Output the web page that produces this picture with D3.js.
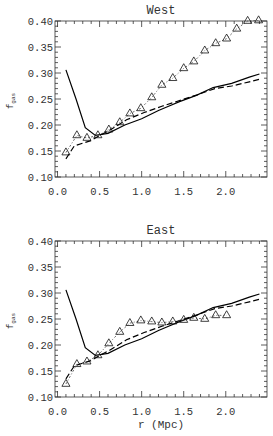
<!DOCTYPE html>
<html lang="en">
<head>
<meta charset="UTF-8">
<title>f_gas profiles</title>
<style>
  body { margin: 0; background: #fff; }
  svg text { font-family: "Liberation Mono", "DejaVu Sans Mono", monospace; fill: #333; }
</style>
</head>
<body>
<svg id="chart" width="273" height="436"></svg>
<script src="https://d3js.org/d3.v7.min.js"></script>
<script>
// radius of the data points (Mpc)
var rPoints = [0.10, 0.23, 0.35, 0.48, 0.61, 0.74, 0.86, 0.99, 1.12, 1.24,
               1.37, 1.50, 1.62, 1.75, 1.88, 2.01, 2.13, 2.26, 2.39];
var westObs = [0.147, 0.180, 0.175, 0.180, 0.191, 0.205, 0.222, 0.232, 0.253, 0.277,
               0.290, 0.309, 0.322, 0.343, 0.357, 0.366, 0.385, 0.400, 0.401];
var eastObs = [0.125, 0.163, 0.168, 0.180, 0.203, 0.225, 0.242, 0.247, 0.245, 0.243,
               0.245, 0.248, 0.252, 0.250, 0.257, 0.257];

// model curves (same in both panels)
var rSolid = [0.10, 0.22, 0.33, 0.45, 0.60, 0.80, 1.00, 1.20, 1.32, 1.45, 1.65, 1.85, 2.07, 2.28, 2.40];
var solid  = [0.306, 0.250, 0.195, 0.180, 0.184, 0.200, 0.212, 0.228, 0.236, 0.245, 0.257, 0.272, 0.280, 0.292, 0.298];
var rDash  = [0.10, 0.20, 0.30, 0.40, 0.50, 0.62, 0.82, 1.03, 1.24, 1.45, 1.66, 1.87, 2.07, 2.28, 2.40];
var dashed = [0.135, 0.160, 0.165, 0.170, 0.180, 0.190, 0.210, 0.224, 0.236, 0.247, 0.258, 0.270, 0.275, 0.283, 0.288];

var xTicks = [0.0, 0.5, 1.0, 1.5, 2.0];
var yTicks = [0.10, 0.15, 0.20, 0.25, 0.30, 0.35, 0.40];

var svg = d3.select("#chart");

var x = d3.scaleLinear().domain([-0.03, 2.49]).range([55, 267]);

function panel(title, obs, top, showXLabel) {
    var y = d3.scaleLinear().domain([0.10, 0.40]).range([top + 156, top]);
    var g = svg.append("g");

    // box
    g.append("rect")
        .attr("x", x.range()[0]).attr("y", top)
        .attr("width", x.range()[1] - x.range()[0]).attr("height", 156)
        .attr("fill", "none").attr("stroke", "#333").attr("stroke-width", 0.8);

    // ticks on all sides, pointing inward
    var xMinor = d3.range(0, 2.41, 0.1);
    var yMinor = d3.range(0.10, 0.4001, 0.01);
    xMinor.forEach(function(v) {
        var major = Math.abs(v * 2 - Math.round(v * 2)) < 1e-6;
        var len = major ? 6 : 3;
        g.append("line").attr("x1", x(v)).attr("x2", x(v))
            .attr("y1", top + 156).attr("y2", top + 156 - len)
            .attr("stroke", "#333").attr("stroke-width", 0.8);
        g.append("line").attr("x1", x(v)).attr("x2", x(v))
            .attr("y1", top).attr("y2", top + len)
            .attr("stroke", "#333").attr("stroke-width", 0.8);
    });
    yMinor.forEach(function(v) {
        var major = Math.abs(v * 20 - Math.round(v * 20)) < 1e-6;
        var len = major ? 6 : 3;
        g.append("line").attr("y1", y(v)).attr("y2", y(v))
            .attr("x1", x.range()[0]).attr("x2", x.range()[0] + len)
            .attr("stroke", "#333").attr("stroke-width", 0.8);
        g.append("line").attr("y1", y(v)).attr("y2", y(v))
            .attr("x1", x.range()[1]).attr("x2", x.range()[1] - len)
            .attr("stroke", "#333").attr("stroke-width", 0.8);
    });

    // tick labels
    g.selectAll(".xl").data(xTicks).enter().append("text")
        .attr("x", d => x(d)).attr("y", top + 174)
        .attr("text-anchor", "middle").attr("font-size", 10.5)
        .text(d => d.toFixed(1));
    g.selectAll(".yl").data(yTicks).enter().append("text")
        .attr("x", x.range()[0] - 2).attr("y", d => y(d) + 3.5)
        .attr("text-anchor", "end").attr("font-size", 10.5)
        .text(d => d.toFixed(2));

    // title
    g.append("text").attr("x", 161).attr("y", top - 7)
        .attr("text-anchor", "middle").attr("font-size", 12)
        .text(title);

    // y label
    var yl = g.append("text")
        .attr("transform", "translate(13," + (top + 80) + ") rotate(-90)")
        .attr("text-anchor", "middle").attr("font-size", 9);
    yl.append("tspan").text("f");
    yl.append("tspan").attr("font-size", 6).attr("dy", 2).text("gas");

    if (showXLabel) {
        g.append("text").attr("x", 161).attr("y", top + 187)
            .attr("text-anchor", "middle").attr("font-size", 11)
            .text("r (Mpc)");
    }

    var line = d3.line().x(d => x(d[0])).y(d => y(d[1]));

    g.append("path")
        .datum(rSolid.map((r, i) => [r, solid[i]]))
        .attr("d", line).attr("fill", "none")
        .attr("stroke", "#000").attr("stroke-width", 1.2);
    g.append("path")
        .datum(rDash.map((r, i) => [r, dashed[i]]))
        .attr("d", line).attr("fill", "none")
        .attr("stroke", "#000").attr("stroke-width", 1.2)
        .attr("stroke-dasharray", "6,3");

    var pts = obs.map((v, i) => [rPoints[i], v]);
    g.append("path")
        .datum(pts)
        .attr("d", line).attr("fill", "none")
        .attr("stroke", "#444").attr("stroke-width", 0.8)
        .attr("stroke-dasharray", "2,2,1,2");

    var tri = d3.symbol().type(d3.symbolTriangle).size(28);
    g.selectAll(".pt").data(pts).enter().append("path")
        .attr("d", tri)
        .attr("transform", d => "translate(" + x(d[0]) + "," + y(d[1]) + ")")
        .attr("fill", "none").attr("stroke", "#111").attr("stroke-width", 0.8);
}

panel("West", westObs, 21, false);
panel("East", eastObs, 241, true);
</script>
</body>
</html>
